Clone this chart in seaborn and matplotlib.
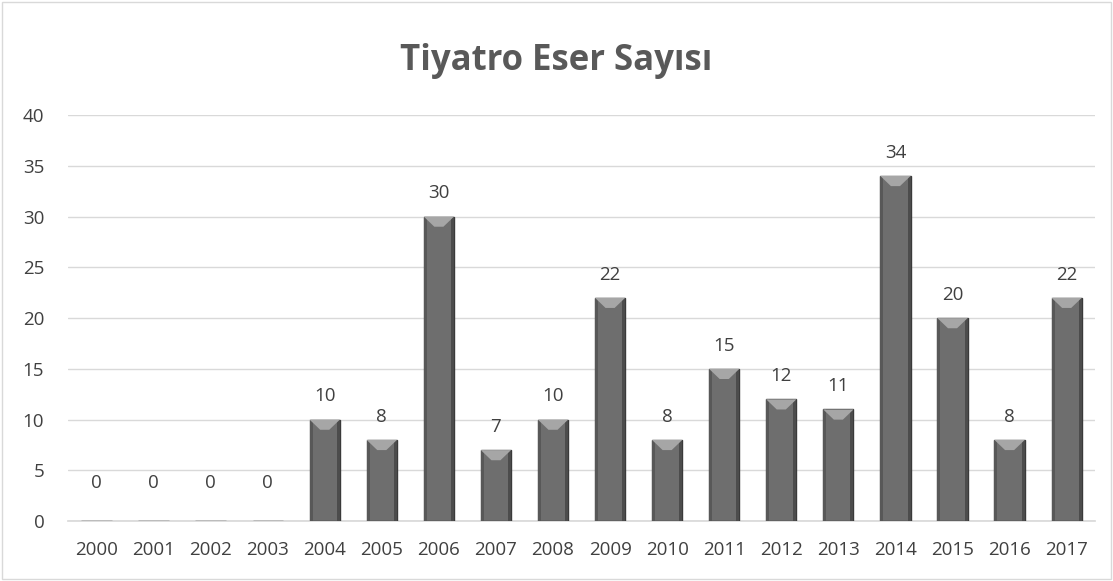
import matplotlib
matplotlib.use("Agg")
import matplotlib.pyplot as plt
import seaborn as sns
import pandas as pd
from matplotlib.patches import Polygon, Rectangle

years = ["2000", "2001", "2002", "2003", "2004", "2005", "2006", "2007", "2008",
         "2009", "2010", "2011", "2012", "2013", "2014", "2015", "2016", "2017"]
counts = [0, 0, 0, 0, 10, 8, 30, 7, 10, 22, 8, 15, 12, 11, 34, 20, 8, 22]
yticks = [0, 5, 10, 15, 20, 25, 30, 35, 40]

df = pd.DataFrame({"year": years, "count": counts})

sns.set_theme(style="white")
plt.rcParams["font.family"] = ["Open Sans", "DejaVu Sans"]

fig = plt.figure(figsize=(11.13, 5.81), dpi=100)
ax = fig.add_axes([0.061, 0.103, 0.923, 0.699])

sns.barplot(data=df, x="year", y="count", color="#6e6e6e", width=0.53,
            edgecolor="#3a3a3a", linewidth=1.0, saturation=1, ax=ax, zorder=3)

# bevel on top of each bar
for p in ax.patches:
    x0, w, h = p.get_x(), p.get_width(), p.get_height()
    if h <= 0:
        continue
    d = 1.0  # bevel depth in data units
    ax.add_patch(Rectangle((x0, 0), w * 0.1, h, facecolor="#585858", edgecolor="none", zorder=4))
    ax.add_patch(Rectangle((x0 + w * 0.9, 0), w * 0.1, h, facecolor="#4c4c4c", edgecolor="none", zorder=4))
    top = Polygon([(x0, h), (x0 + w, h), (x0 + w * 0.65, h - d), (x0 + w * 0.35, h - d)],
                  closed=True, facecolor="#a6a6a6", edgecolor="none", zorder=5)
    ax.add_patch(top)

for i, v in enumerate(counts):
    off = 1.4 if v > 0 else 2.9
    ax.text(i, v + off, str(v), ha="center", va="bottom", fontsize=13.5, color="#404040")

ax.set_ylim(0, 40)
ax.set_yticks(yticks)
ax.set_xlim(-0.5, len(years) - 0.5)
ax.yaxis.grid(True, color="#d9d9d9", linewidth=1)
ax.set_axisbelow(True)
for s in ax.spines.values():
    s.set_visible(False)
ax.spines["bottom"].set_visible(True)
ax.spines["bottom"].set_color("#d9d9d9")
ax.tick_params(axis="y", length=0, labelsize=13.5, labelcolor="#404040", pad=17)
ax.tick_params(axis="x", length=0, labelsize=13.5, labelcolor="#404040", pad=14)
ax.set_xlabel("")
ax.set_ylabel("")

fig.text(0.5, 0.895, "Tiyatro Eser Sayısı", ha="center", va="center",
         fontsize=25, fontweight="bold", color="#595959")

fig.patches.append(Rectangle((0.002, 0.003), 0.996, 0.994, transform=fig.transFigure,
                             fill=False, edgecolor="#d9d9d9", linewidth=1))

fig.savefig("out.png", dpi=100)
